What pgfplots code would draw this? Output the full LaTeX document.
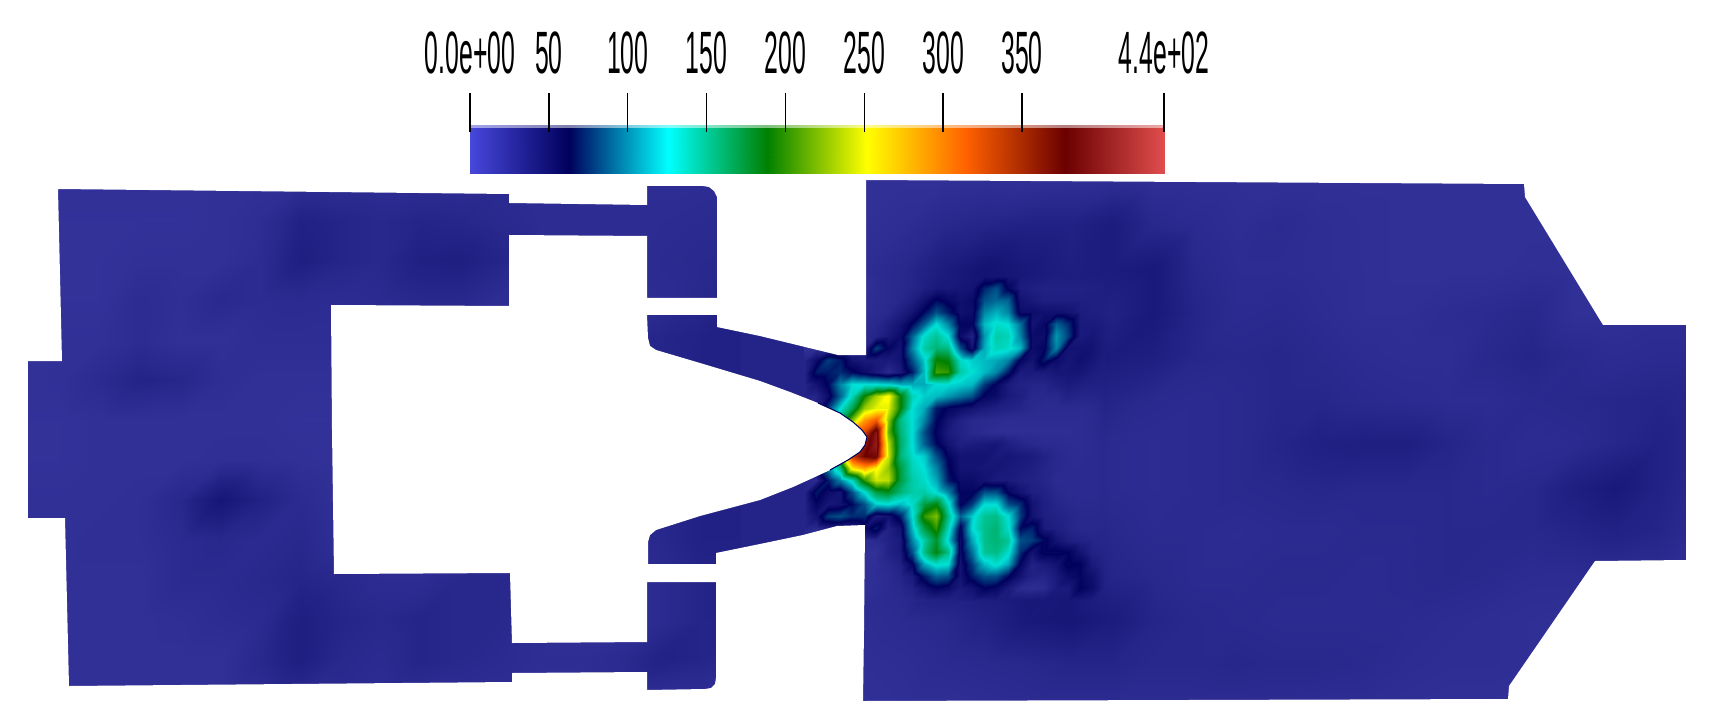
\documentclass[border=0pt]{standalone}
\usepackage{fontspec}
\setmainfont{Liberation Sans}
\usepackage{graphicx}
\usepackage{pgfplots}
\usepackage{pgfplotstable}
\pgfplotsset{compat=1.18}

% colour bar map, and the same map with the duller low end and cyan the field shows
\pgfplotsset{colormap={pv}{
    rgb255=(71,71,219) rgb255=(0,0,92) rgb255=(0,255,255) rgb255=(0,128,0)
    rgb255=(255,255,0) rgb255=(255,97,0) rgb255=(107,0,0) rgb255=(224,77,77)}}
\pgfplotsset{colormap={pvfield}{
    rgb255=(92,92,205) rgb255=(0,0,92) rgb255=(0,225,215) rgb255=(0,128,0)
    rgb255=(255,255,0) rgb255=(255,97,0) rgb255=(107,0,0) rgb255=(224,77,77)}}
\definecolor{basefield}{RGB}{36,36,136}
\newcommand{\lb}[1]{\scalebox{0.415}[1]{#1}}

% left plenum, 19 columns (x=20..740, step 40), 14 rows (y=180..700, step 40)
\pgfplotstableread[row sep=\\, header=false]{
30\\30\\30\\30\\30\\30\\30\\31\\31\\32\\32\\32\\33\\32\\32\\32\\32\\32\\33\\
30\\29\\29\\29\\29\\30\\32\\40\\38\\36\\38\\37\\35\\33\\33\\33\\33\\34\\34\\
30\\29\\29\\30\\30\\30\\33\\42\\38\\36\\41\\42\\38\\32\\32\\32\\34\\35\\36\\
30\\29\\29\\33\\31\\35\\33\\34\\33\\34\\36\\36\\32\\32\\32\\32\\33\\36\\40\\
30\\30\\30\\33\\30\\30\\32\\32\\32\\32\\32\\32\\32\\32\\32\\34\\38\\40\\40\\
29\\30\\34\\39\\37\\32\\30\\30\\30\\30\\30\\30\\30\\30\\30\\33\\36\\40\\40\\
29\\29\\30\\30\\30\\30\\30\\29\\29\\29\\29\\30\\30\\30\\30\\32\\34\\36\\38\\
29\\29\\30\\30\\30\\31\\31\\30\\29\\29\\29\\30\\30\\30\\30\\32\\34\\36\\38\\
30\\30\\30\\31\\36\\48\\40\\34\\30\\30\\30\\30\\30\\30\\30\\33\\36\\40\\40\\
30\\30\\31\\31\\34\\36\\34\\36\\31\\30\\30\\30\\30\\30\\30\\33\\36\\40\\40\\
30\\30\\30\\30\\34\\34\\36\\38\\36\\33\\33\\36\\36\\33\\30\\30\\34\\38\\40\\
30\\30\\30\\30\\31\\33\\34\\42\\38\\36\\38\\36\\36\\32\\30\\30\\34\\38\\38\\
30\\30\\30\\30\\30\\30\\36\\42\\36\\34\\38\\36\\34\\32\\32\\34\\40\\38\\34\\
30\\30\\30\\30\\30\\30\\32\\34\\34\\32\\32\\32\\32\\31\\31\\31\\31\\31\\31\\
}\plenum

% outlet chamber, 21 columns (x=860..1700, step 42), 13 rows (y=180..708, step 44)
\pgfplotstableread[row sep=\\, header=false]{
30\\30\\30\\31\\30\\31\\32\\31\\31\\31\\30\\30\\30\\30\\30\\30\\30\\30\\30\\30\\30\\
30\\32\\36\\38\\40\\40\\44\\36\\34\\32\\34\\32\\31\\30\\30\\30\\30\\30\\30\\30\\30\\
32\\36\\44\\50\\46\\42\\44\\46\\36\\33\\33\\32\\31\\30\\30\\30\\31\\30\\30\\30\\30\\
32\\36\\48\\50\\48\\44\\40\\46\\38\\34\\35\\33\\31\\31\\33\\34\\36\\30\\30\\32\\32\\
34\\40\\50\\52\\48\\50\\44\\42\\37\\36\\37\\35\\33\\32\\32\\36\\38\\35\\33\\34\\34\\
36\\40\\44\\52\\52\\44\\38\\35\\34\\35\\37\\37\\35\\34\\33\\33\\35\\36\\37\\38\\36\\
36\\40\\46\\46\\48\\40\\34\\33\\34\\35\\38\\41\\42\\42\\38\\35\\33\\34\\37\\40\\36\\
34\\38\\46\\46\\46\\38\\34\\33\\34\\35\\36\\37\\36\\36\\36\\35\\36\\42\\46\\40\\34\\
32\\36\\46\\46\\46\\42\\36\\34\\34\\33\\34\\34\\35\\35\\36\\36\\36\\38\\40\\38\\33\\
32\\36\\46\\46\\48\\46\\38\\36\\34\\34\\35\\35\\34\\35\\36\\35\\33\\33\\33\\33\\33\\
32\\34\\36\\40\\46\\48\\44\\38\\36\\35\\34\\34\\34\\34\\33\\32\\31\\30\\30\\30\\30\\
31\\32\\34\\35\\36\\38\\38\\36\\36\\37\\36\\36\\35\\33\\32\\32\\31\\30\\30\\30\\30\\
30\\31\\31\\32\\33\\33\\33\\33\\33\\33\\33\\32\\32\\31\\30\\30\\30\\30\\30\\30\\30\\
}\chamber

% jet region, 26 columns (x=804..1104, step 12), 28 rows (y=276..600, step 12)
\pgfplotstableread[row sep=\\, header=false]{
30\\30\\30\\30\\30\\32\\33\\35\\36\\38\\41\\43\\45\\46\\48\\50\\49\\48\\46\\45\\44\\43\\43\\43\\43\\43\\
30\\30\\30\\30\\30\\30\\33\\35\\36\\38\\42\\46\\46\\48\\50\\72\\85\\60\\44\\42\\40\\40\\40\\40\\41\\42\\
30\\30\\30\\30\\30\\32\\33\\35\\37\\42\\52\\65\\58\\52\\56\\85\\92\\90\\50\\46\\42\\42\\42\\42\\42\\42\\
30\\30\\30\\30\\30\\32\\34\\36\\42\\50\\65\\85\\70\\52\\55\\100\\112\\100\\55\\55\\52\\52\\50\\44\\42\\41\\
30\\30\\30\\30\\32\\34\\36\\42\\50\\65\\90\\125\\100\\60\\60\\115\\130\\125\\95\\50\\58\\90\\75\\45\\45\\43\\
30\\30\\30\\30\\32\\35\\38\\46\\55\\90\\130\\145\\125\\55\\40\\105\\140\\135\\100\\55\\55\\105\\80\\45\\48\\43\\
30\\30\\30\\30\\34\\38\\80\\60\\50\\100\\140\\155\\150\\85\\50\\110\\135\\130\\115\\55\\60\\100\\50\\50\\50\\44\\
38\\55\\80\\70\\50\\45\\45\\45\\50\\85\\120\\190\\185\\130\\120\\115\\110\\100\\60\\50\\70\\55\\48\\52\\48\\43\\
38\\70\\70\\75\\65\\55\\45\\35\\45\\70\\115\\205\\200\\140\\125\\115\\100\\70\\45\\45\\45\\48\\48\\48\\44\\42\\
38\\50\\65\\100\\125\\125\\125\\120\\110\\110\\110\\125\\125\\120\\115\\80\\60\\45\\40\\38\\38\\42\\45\\42\\41\\41\\
38\\38\\55\\90\\135\\190\\230\\255\\190\\135\\120\\115\\105\\95\\85\\60\\55\\45\\42\\36\\36\\36\\40\\38\\38\\39\\
35\\40\\80\\125\\165\\225\\245\\245\\190\\125\\110\\70\\60\\55\\50\\45\\42\\40\\38\\36\\34\\34\\34\\34\\35\\38\\
35\\60\\100\\160\\220\\290\\320\\225\\150\\125\\100\\65\\50\\40\\36\\35\\34\\33\\33\\33\\33\\33\\33\\33\\34\\37\\
35\\60\\110\\170\\300\\330\\395\\215\\155\\125\\85\\60\\45\\40\\36\\34\\32\\32\\32\\32\\32\\32\\32\\33\\34\\36\\
35\\60\\110\\170\\340\\360\\400\\235\\160\\125\\90\\65\\50\\42\\44\\46\\48\\42\\38\\36\\34\\34\\33\\33\\34\\35\\
35\\60\\120\\200\\340\\375\\385\\240\\155\\130\\120\\85\\60\\50\\50\\50\\46\\48\\46\\44\\40\\36\\34\\33\\34\\35\\
35\\50\\100\\150\\260\\285\\255\\225\\170\\135\\125\\100\\65\\50\\50\\48\\48\\46\\44\\42\\38\\36\\34\\34\\34\\35\\
38\\35\\70\\100\\135\\200\\240\\235\\170\\140\\130\\110\\70\\55\\55\\50\\45\\45\\42\\40\\38\\34\\34\\34\\34\\35\\
38\\70\\55\\50\\85\\125\\170\\180\\155\\140\\140\\125\\100\\60\\60\\85\\85\\60\\50\\42\\40\\36\\34\\34\\34\\35\\
38\\60\\48\\50\\65\\85\\120\\125\\115\\130\\170\\185\\130\\60\\80\\125\\125\\85\\75\\50\\42\\38\\36\\35\\35\\36\\
38\\50\\80\\85\\75\\75\\45\\50\\70\\125\\200\\220\\150\\90\\120\\145\\150\\125\\80\\50\\42\\40\\38\\36\\36\\36\\
38\\35\\40\\40\\40\\55\\70\\40\\50\\115\\170\\200\\135\\60\\125\\148\\155\\130\\65\\72\\45\\42\\38\\36\\36\\37\\
32\\32\\32\\32\\32\\32\\35\\40\\45\\100\\140\\175\\120\\55\\110\\148\\155\\145\\85\\80\\65\\50\\42\\40\\38\\37\\
32\\32\\32\\32\\32\\30\\30\\40\\45\\85\\150\\185\\150\\55\\95\\145\\150\\130\\75\\50\\65\\65\\62\\50\\40\\38\\
32\\32\\32\\32\\32\\30\\32\\36\\40\\60\\110\\130\\125\\50\\80\\115\\130\\110\\60\\40\\45\\50\\65\\62\\45\\39\\
32\\32\\32\\32\\32\\30\\32\\34\\38\\45\\70\\90\\85\\50\\70\\85\\85\\65\\50\\40\\38\\45\\55\\60\\52\\40\\
32\\32\\32\\32\\32\\30\\32\\34\\36\\40\\50\\60\\55\\45\\50\\62\\58\\45\\35\\33\\35\\45\\45\\62\\55\\41\\
32\\32\\32\\32\\32\\32\\33\\34\\35\\36\\38\\40\\41\\42\\43\\43\\44\\45\\46\\47\\47\\47\\47\\46\\44\\42\\
}\jet

% one surf per pair of grid rows: table, columns, last strip, x0, dx, y0, dy
\newcommand{\strips}[7]{%
\pgfplotsinvokeforeach{0,...,#3}{
\addplot[surf, shader=interp, mesh/cols=#2, point meta=\thisrowno{0}, filter discard warning=false,
    skip coords between index={0}{\the\numexpr #2*##1\relax},
    skip coords between index={\the\numexpr #2*(##1+2)\relax}{100000}]
    table[x index=0, y index=0,
      x expr={#4+#5*(\coordindex-#2*floor((\coordindex+0.5)/#2))},
      y expr={#6+#7*floor((\coordindex+0.5)/#2)}] {#1};
}}

\begin{document}
\begin{tikzpicture}
\begin{axis}[
    name=field,
    at={(0,0)}, anchor=south west,
    scale only axis, width=17.15cm, height=7.16cm,
    xmin=0, xmax=1715, ymin=0, ymax=716, y dir=reverse,
    hide axis,
    colormap name=pvfield,
    point meta min=0, point meta max=440,
]
% flat base under the channels
\addplot[draw=none, fill=basefield] coordinates {(0,0) (1715,0) (1715,716) (0,716) (0,0)};

\strips{\plenum}{19}{12}{20}{40}{180}{40}
\strips{\chamber}{21}{11}{860}{42}{180}{44}
\strips{\jet}{26}{26}{804}{12}{276}{12}

% white everywhere outside the two flow domains
\addplot[draw=none, fill=white, even odd rule, unbounded coords=jump] coordinates {
    (-5,-5) (1720,-5) (1720,721) (-5,721) (-5,-5)
    (nan,nan)
    (58,189) (509,194) (509,203) (647,205) (647,186) (703,186) (709,187) (714,191) (717,197)
    (717,298) (647,298) (647,236) (509,235) (509,306) (331,305) (332,430) (334,574)
    (510,573) (512,643) (647,642) (647,582) (716,582) (716,678) (715,684) (711,688) (705,689)
    (647,690) (647,672) (512,673) (512,682) (69,686) (65,518) (28,518) (28,361)
    (62,361) (58,189)
    (nan,nan)
    (866,180) (1524,184) (1525,197) (1603,325) (1686,325) (1686,560) (1595,561)
    (1509,686) (1508,699) (863,701) (864,630) (865,525) (837,526) (803,535) (760,544)
    (716,553) (716,564) (648,564) (648,542) (650,535) (656,530) (700,516) (760,500) (793,487)
    (815,477) (830,470) (848,460) (860,452) (865,445) (867,437) (862,430) (853,422) (840,413)
    (818,403) (790,392) (760,381) (700,363) (656,350) (650,346) (648,338)
    (647,315) (717,315) (717,327) (760,336) (838,355) (866,355) (866,180)
};
% thin dark skin on the nose
\addplot[color={rgb,255:red,0;green,0;blue,92}, line width=0.3pt] coordinates {
    (818,403) (840,413) (853,422) (862,430) (867,437) (865,445) (860,452) (848,460) (830,470)};
\end{axis}

\begin{axis}[
    at={(4.70cm,5.42cm)}, anchor=south west,
    scale only axis, width=6.94cm, height=0.81cm,
    xmin=0, xmax=440, ymin=93, ymax=174, y dir=reverse,
    colormap name=pv,
    point meta min=0, point meta max=440,
    axis line style={draw=none},
    axis on top,
    ytick=\empty,
    xtick={0,50,100,150,200,250,300,350,440},
    xticklabels={\lb{0.0e+00},\lb{50},\lb{100},\lb{150},\lb{200},\lb{250},\lb{300},\lb{350},\lb{4.4e+02}},
    xtick pos=upper, xticklabel pos=upper,
    tick align=inside,
    major tick length=0.39cm,
    tick style={black, line width=0.4pt},
    xticklabel style={font=\fontsize{17}{17}\selectfont, text=black, yshift=0.06cm},
]
\addplot[surf, shader=interp, mesh/cols=2, point meta=x]
    coordinates {(0,125) (440,125) (0,174) (440,174)};
\addplot[white, opacity=0.5, line width=1pt] coordinates {(0,126) (440,126)};
\end{axis}
\end{tikzpicture}
\end{document}
